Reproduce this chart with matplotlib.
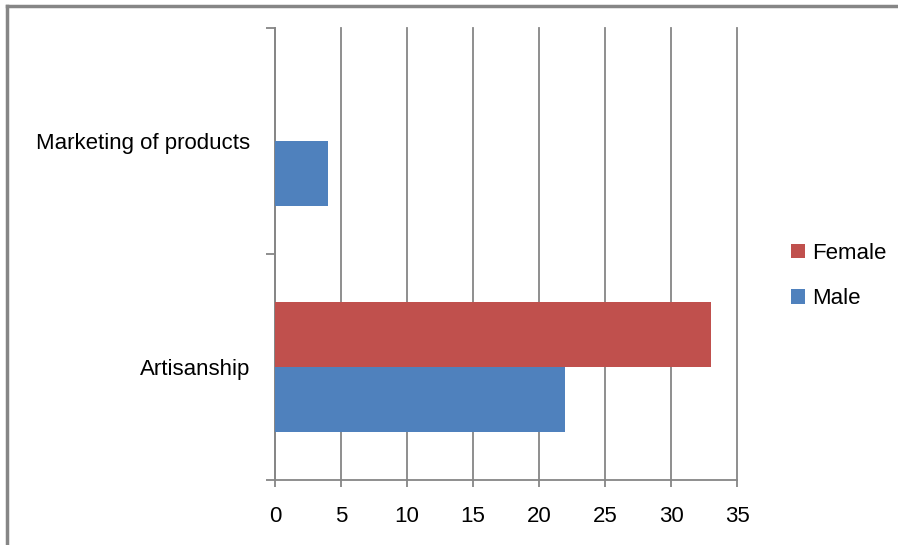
import matplotlib.pyplot as plt
import numpy as np
from matplotlib.lines import Line2D

# dados
categorias = ['Artisanship', 'Marketing of products']
male = [22, 4]
female = [33, 0]
x_ticks = [0, 5, 10, 15, 20, 25, 30, 35]

plt.rcParams['font.family'] = ['Liberation Sans', 'DejaVu Sans']

fig = plt.figure(figsize=(8.98, 5.45), dpi=100)
ax = fig.add_axes([275/898, 1-480/545, (737-275)/898, (480-28)/545])

y = np.arange(len(categorias))
h = 0.288
ax.barh(y - h/2, male, height=h, color='#4F81BD', label='Male', zorder=3)
ax.barh(y + h/2, female, height=h, color='#C0504D', label='Female', zorder=3)

ax.set_xlim(0, 35)
ax.set_ylim(-0.5, 1.5)
ax.set_xticks(x_ticks)
ax.set_yticks([-0.5, 0.5, 1.5], minor=False)
ax.set_yticklabels([])
ax.set_yticks(y, minor=True)
ax.set_yticklabels(categorias, minor=True)

cinza = '#868686'
ax.grid(axis='x', color=cinza, linewidth=1.3, zorder=0)
for gl in ax.get_xgridlines():
    gl.set_clip_on(False)
for s in ['top', 'right']:
    ax.spines[s].set_visible(False)
for s in ['left', 'bottom']:
    ax.spines[s].set_color(cinza)
    ax.spines[s].set_linewidth(1.3)
ax.tick_params(axis='x', which='major', length=5, width=1.3, color=cinza,
               labelsize=16, pad=14, labelcolor='black')
ax.tick_params(axis='y', which='major', length=6.5, width=1.3, color=cinza)
ax.tick_params(axis='y', which='minor', length=0, labelsize=16, pad=18)

# legenda
handles, labels = ax.get_legend_handles_labels()
fig.legend(handles[::-1], labels[::-1], loc='center left',
           bbox_to_anchor=(771/898, 1-276/545), frameon=False, fontsize=16,
           handlelength=0.65, handleheight=0.65, handletextpad=0.3,
           labelspacing=1.1)

# moldura
fig.add_artist(Line2D([7/898, 7/898], [0, 1-6/545], color=cinza, linewidth=2.5))
fig.add_artist(Line2D([7/898, 1], [1-6/545, 1-6/545], color=cinza, linewidth=2.5))

fig.savefig('out.png', dpi=100)
